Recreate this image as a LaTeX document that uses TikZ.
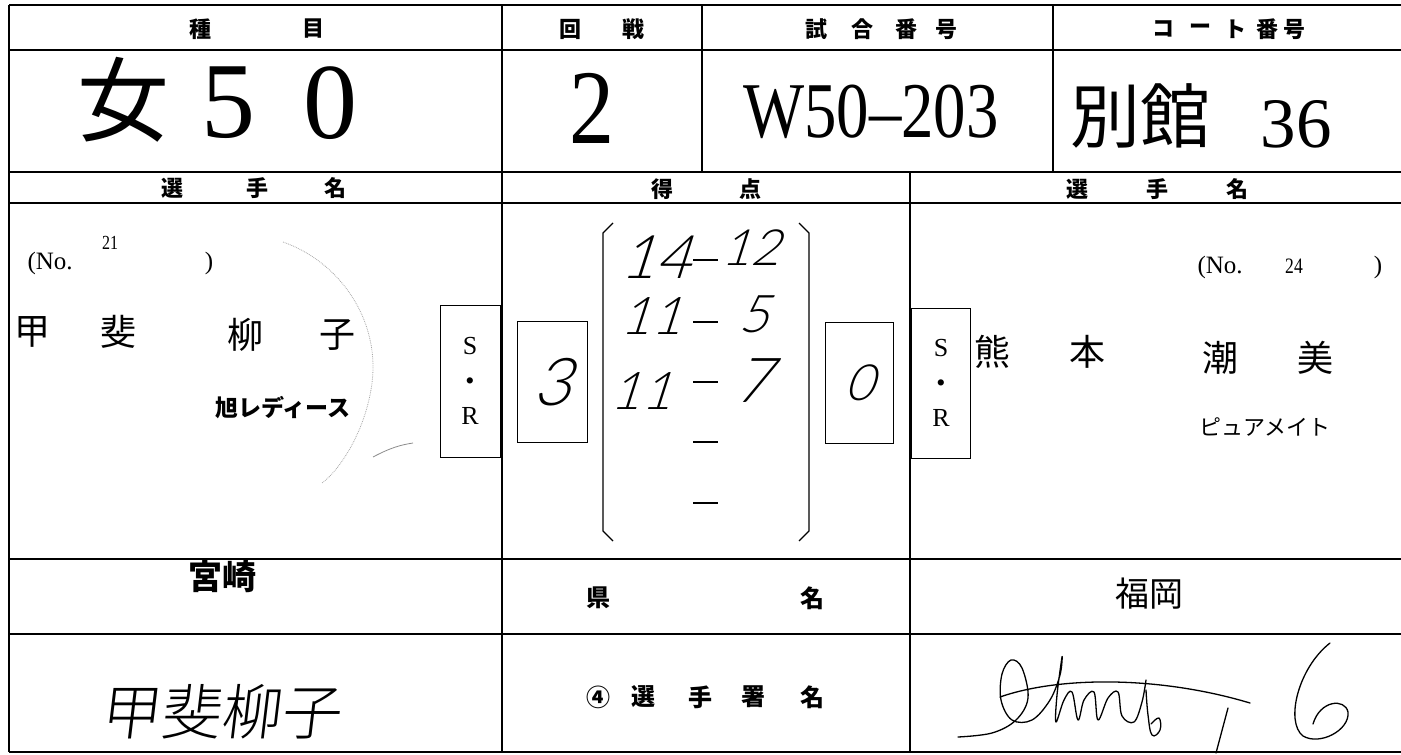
\documentclass[tikz,border=0pt]{standalone}
\usepackage{fontspec}
\setmainfont{Liberation Serif}
\newfontfamily\jp{Noto Sans CJK JP}
\IfFontExistsTF{Noto Sans CJK JP Light}
  {\newfontfamily\jphand{Noto Sans CJK JP Light}[FakeSlant=0.12]}
  {\newfontfamily\jphand{Noto Sans CJK JP}[FakeSlant=0.12]}
\IfFontExistsTF{Lato Light}
  {\newfontfamily\hand{Lato Light}[FakeSlant=0.32]}
  {\newfontfamily\hand{Carlito}[FakeSlant=0.32]}
\newcommand\fs[1]{\fontsize{#1}{#1}\selectfont}

\tikzset{
  gridline/.style={line width=2.4pt},
  thinrule/.style={line width=1.5pt},
  sqbox/.style={draw,line width=1pt,inner sep=0pt},
  lab/.style={font=\jp\bfseries\fs{22}},
  bodylab/.style={font=\jp\bfseries\fs{24}},
  pname/.style={font=\jp\fs{36}},
  num/.style={font=\fs{25}},
  hw/.style={font=\hand\fs{52}},
  sig/.style={line width=1.3pt,line cap=round,line join=round},
}

\begin{document}
\begin{tikzpicture}[x=1pt,y=-1pt]
  \useasboundingbox (0,0) rectangle (1401,755);

  % form rules
  \draw[gridline] (9,5) -- (1401,5);
  \draw[gridline] (9,5) -- (9,752);
  \draw[gridline] (9,752) -- (1401,752);
  \draw[thinrule] (9,50) -- (1401,50);
  \draw[gridline] (9,172) -- (1401,172);
  \draw[thinrule] (9,203) -- (1401,203);
  \draw[gridline] (9,559) -- (1401,559);
  \draw[thinrule] (9,634) -- (1401,634);
  \draw[gridline] (502,5) -- (502,752);
  \draw[thinrule] (702,5) -- (702,172);
  \draw[thinrule] (1053,5) -- (1053,172);
  \draw[gridline] (910,172) -- (910,752);

  % header row
  \node[lab] (shu) at (200,29) {種};
  \node[lab] (moku) at (313,29) {目};
  \node[lab] (kai) at (570,29) {回};
  \node[lab] (sen) at (633,29) {戦};
  \foreach \c/\x [count=\i] in {試/816,合/862,番/906,号/946}
    \node[lab] (shiai\i) at (\x,29) {\c};
  \foreach \c/\x [count=\i] in {コ/1163,ー/1200,ト/1235,番/1267,号/1294}
    \node[lab] (court\i) at (\x,29) {\c};

  % big entries
  \node[font=\jp\fs{92}] (onna) at (123,100) {女};
  \node[font=\fs{108}] (five) at (228,103) {5};
  \node[font=\fs{108}] (zero) at (330,103) {0};
  \node[font=\fs{106}] (round) at (592,108) {\scalebox{0.85}[1]{2}};
  \node[font=\fs{79}] (match) at (871,112) {\scalebox{0.82}[1]{W50–203}};
  \node[font=\jp\fs{70}] (bekkan) at (1140,116) {別館};
  \node[font=\fs{71}] (court) at (1296,124) {36};

  % second header row
  \node[lab] (selL1) at (172,188) {選};
  \node[lab] (selL2) at (257,188) {手};
  \node[lab] (selL3) at (335,188) {名};
  \node[lab] (toku) at (662,189) {得};
  \node[lab] (ten) at (750,189) {点};
  \node[lab] (selR1) at (1077,189) {選};
  \node[lab] (selR2) at (1157,189) {手};
  \node[lab] (selR3) at (1237,189) {名};

  % left player
  \node[num,anchor=west] (noL) at (24,263) {(No.};
  \node[font=\fs{20}] (noLnum) at (110,243) {\scalebox{0.8}[1]{21}};
  \node[num] (noLend) at (209,263) {)};
  \node[pname] (pl1) at (32,332) {甲};
  \node[pname] (pl2) at (118,332) {斐};
  \node[pname] (pl3) at (245,335) {柳};
  \node[pname] (pl4) at (337,335) {子};
  \node[font=\jp\bfseries\fs{23}] (clubL) at (283,408) {旭レディース};
  \draw[black!35,densely dotted,line width=0.8pt]
    (283,242) .. controls (340,262) and (380,320) .. (372,383)
    .. controls (366,430) and (340,470) .. (322,483);
  \draw[black!45,line width=0.8pt] (373,457) .. controls (390,448) and (400,445) .. (413,443);

  % right player
  \node[num,anchor=west] (noR) at (1194,267) {(No.};
  \node[font=\fs{22}] (noRnum) at (1294,266) {\scalebox{0.8}[1]{24}};
  \node[num] (noRend) at (1378,267) {)};
  \node[pname] (pr1) at (992,352) {熊};
  \node[pname] (pr2) at (1087,352) {本};
  \node[pname] (pr3) at (1220,358) {潮};
  \node[pname] (pr4) at (1315,358) {美};
  \node[font=\jp\fs{22}] (clubR) at (1265,427) {ピュアメイト};

  % S.R boxes and set counts
  \node[sqbox,minimum width=60pt,minimum height=152pt,align=center,font=\fs{26},
    text depth=0pt] (srL) at (470,381) {S\\[9pt]\textbullet\\[9pt]R};
  \node[sqbox,minimum width=59pt,minimum height=150pt,align=center,font=\fs{26},
    text depth=0pt] (srR) at (941,383) {S\\[9pt]\textbullet\\[9pt]R};
  \node[sqbox,minimum width=70pt,minimum height=121pt] (setL) at (552,382) {};
  \node[sqbox,minimum width=68pt,minimum height=121pt] (setR) at (859,383) {};
  \node[hw,font=\hand\fs{66}] (setLnum) at (setL) {3};
  \node[hw,font=\hand\fs{50}] (setRnum) at (setR) {0};

  % game scores
  \draw[line width=1.2pt] (613,223) -- (603,233) -- (603,531) -- (613,541);
  \draw[line width=1.2pt] (799,223) -- (809,233) -- (809,531) -- (799,541);
  \foreach \y [count=\i] in {260,322,382,442,503}
    \draw[thinrule] (693,\y) -- (718,\y);
  \node[hw,font=\hand\fs{60}] (g1l) at (655,257) {14};
  \node[hw,font=\hand\fs{50}] (g1r) at (750,248) {12};
  \node[hw] (g2l) at (651,316) {11};
  \node[hw] (g2r) at (754,314) {5};
  \node[hw] (g3l) at (641,391) {11};
  \node[hw,font=\hand\fs{62}] (g3r) at (752,381) {7};

  % prefecture row
  \node[font=\jp\bfseries\fs{34}] (prefL) at (222,577) {宮崎};
  \node[bodylab] (ken) at (598,598) {県};
  \node[bodylab] (mei) at (812,598) {名};
  \node[font=\jp\fs{34}] (prefR) at (1149,594) {福岡};

  % signature row
  \node[font=\jphand\fs{60}] (signL) at (220,712) {甲斐柳子};
  \foreach \c/\x [count=\i] in {④/598,選/643,手/700,署/753,名/812}
    \node[bodylab] (sign\i) at (\x,697) {\c};
  \draw[sig] plot[smooth,tension=0.6] coordinates {(958,737) (992,733) (1016,720)
    (1028,698) (1022,668) (1011,660) (1002,674) (1001,700) (1012,720) (1032,720)
    (1050,700) (1060,675) (1062,657) (1057,695) (1056,722) (1064,700) (1072,692)
    (1078,720) (1084,700) (1094,692) (1098,720) (1108,698) (1118,692) (1122,716)
    (1134,722) (1142,702) (1146,680)};
  \draw[sig] plot[smooth,tension=0.7] coordinates {(1146,690) (1148,715) (1152,735)
    (1160,730) (1159,718) (1151,724)};
  \draw[sig] (1000,697) .. controls (1060,676) and (1160,676) .. (1250,703);
  \draw[sig] (1228,708) -- (1216,753);
  \draw[sig] (1330,643) .. controls (1298,668) and (1285,722) .. (1303,736)
    .. controls (1320,746) and (1350,730) .. (1348,712)
    .. controls (1345,698) and (1320,700) .. (1313,724);
\end{tikzpicture}
\end{document}
